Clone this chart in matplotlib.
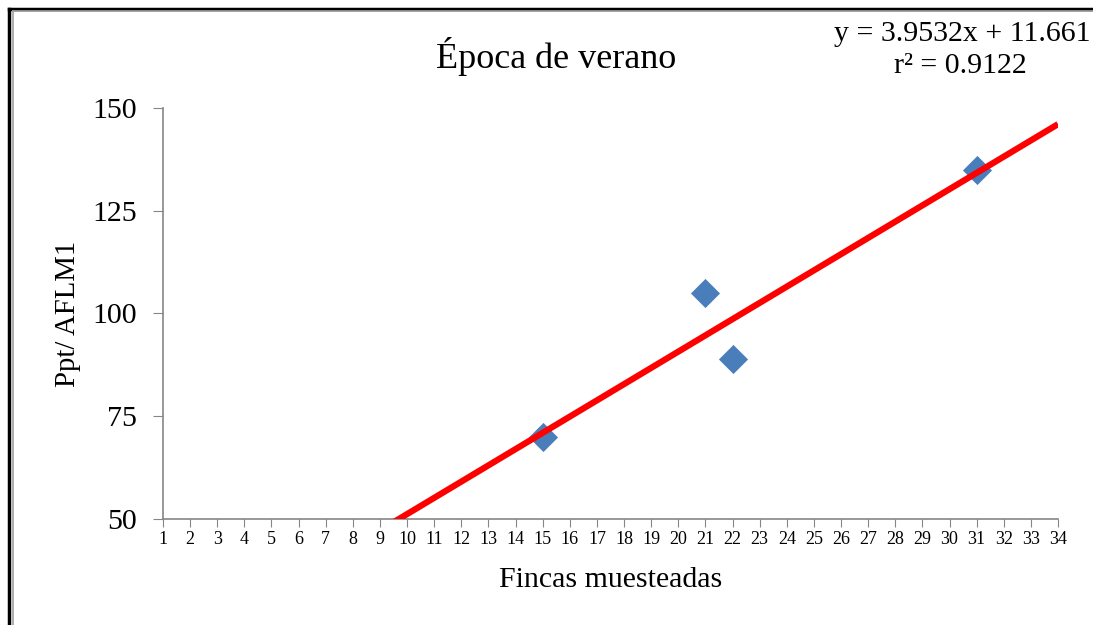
import numpy as np
import matplotlib
matplotlib.use('Agg')
import matplotlib.pyplot as plt
from matplotlib.lines import Line2D

# Datos de la época de verano
fincas = [15, 21, 22, 31]
ppt_aflm1 = [70, 105, 89, 135]

# Línea de tendencia (ajuste lineal reportado)
pendiente = 3.9532
intercepto = 11.661
r2 = 0.9122

x_ticks = list(range(1, 35))
y_ticks = [50, 75, 100, 125, 150]

plt.rcParams['font.family'] = ['Liberation Serif', 'DejaVu Serif']

fig = plt.figure(figsize=(10.93, 6.25), dpi=100)
ax = fig.add_axes([0.1491, 0.1696, 0.8189, 0.6576])

gris = '#868686'
ax.scatter(fincas, ppt_aflm1, marker='D', s=220, color='#4a7ebb', zorder=3, linewidths=0)

x_lin = np.linspace(1, 34, 200)
ax.plot(x_lin, pendiente * x_lin + intercepto, color='#ff0000', lw=4.5, zorder=4,
        solid_capstyle='butt')

ax.set_xlim(1, 34)
ax.set_ylim(50, 150)
ax.set_xticks(x_ticks)
ax.set_yticks(y_ticks)
ax.tick_params(axis='x', labelsize=13, direction='out', length=6, color=gris, pad=3)
ax.tick_params(axis='y', labelsize=21.5, direction='out', length=7, color=gris, pad=12)

for lado in ['top', 'right']:
    ax.spines[lado].set_visible(False)
for lado in ['left', 'bottom']:
    ax.spines[lado].set_color(gris)
    ax.spines[lado].set_linewidth(1.2)

fig.text(0.5087, 0.910, 'Época de verano', fontsize=26, ha='center', va='center')
ax.set_xlabel('Fincas muesteadas', fontsize=21.5, labelpad=13)
ax.set_ylabel('Ppt/ AFLM1', fontsize=20.7, labelpad=8)

fig.text(0.9975, 0.946, f'y = {pendiente}x + {intercepto}', fontsize=21.5, ha='right', va='center')
fig.text(0.879, 0.894, f'r² = {r2}', fontsize=21.5, ha='center', va='center')

# Marco del lienzo (solo bordes izquierdo y superior)
fig.add_artist(Line2D([0.0085, 0.0085], [0, 0.986], transform=fig.transFigure, color='black', lw=2.5))
fig.add_artist(Line2D([0.0085, 1], [0.986, 0.986], transform=fig.transFigure, color='black', lw=2.5))
fig.add_artist(Line2D([0.0115, 0.0115], [0, 0.983], transform=fig.transFigure, color='#a0a0a0', lw=1.2))
fig.add_artist(Line2D([0.0115, 1], [0.983, 0.983], transform=fig.transFigure, color='#a0a0a0', lw=1.2))

fig.savefig('out.png', dpi=100)
